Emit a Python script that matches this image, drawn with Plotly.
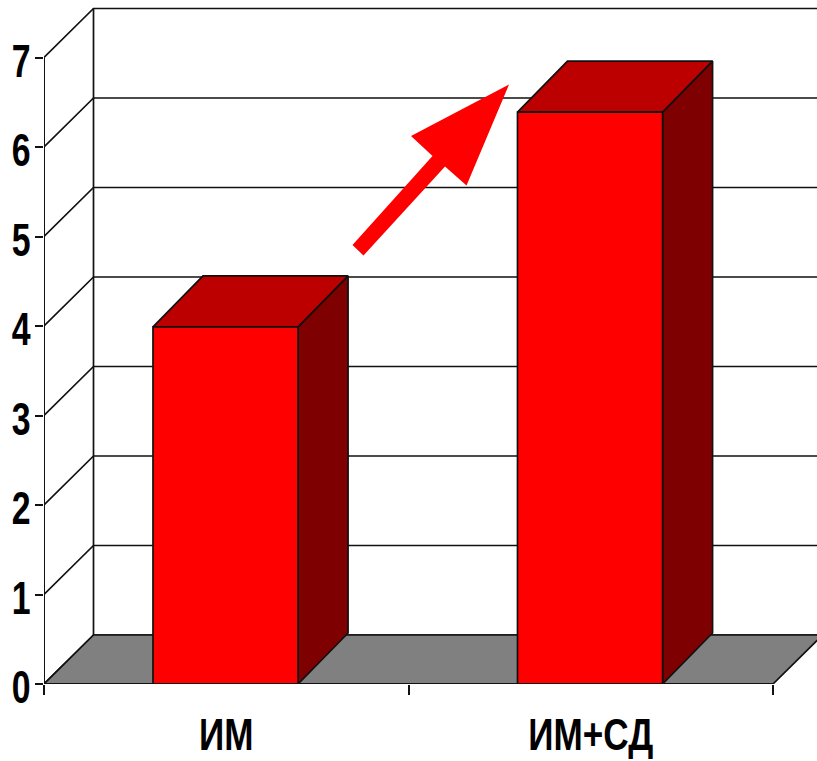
import plotly.graph_objects as go

# Chart values
categories = ["ИМ", "ИМ+СД"]
values = [3.99, 6.39]
y_ticks = [0, 1, 2, 3, 4, 5, 6, 7]

# Page geometry (pixels)
W, H = 817, 761
ML, MB = 44, 77
PX_X = 364.5                  # pixels per category
PX_Y = 89.5                   # pixels per value unit

# Oblique depth of the pseudo-3D box and of the bars
wall_dx, wall_dy = 49.5 / PX_X, 49 / PX_Y
bar_dx, bar_dy = 50 / PX_X, 51 / PX_Y
bar_w = 0.398
x_left, x_right = -0.5, 1.5
x_edge = x_left + (W - ML) / PX_X
y_top = (H - MB) / PX_Y

INK = "#111111"
fig = go.Figure()


def poly(xs, ys, fill=None, width=1.7, color=INK):
    fig.add_trace(go.Scatter(
        x=xs, y=ys, mode="lines", hoverinfo="skip",
        showlegend=False, line=dict(color=color, width=width),
        fill="toself" if fill else "none", fillcolor=fill,
    ))


# Back wall gridlines with their side-wall returns
for v in y_ticks:
    poly([x_left, x_left + wall_dx, x_edge + 0.05], [v, v + wall_dy, v + wall_dy])
poly([x_left + wall_dx] * 2, [wall_dy, 7 + wall_dy])

# Floor of the box
poly([x_left, x_left + wall_dx, x_right + wall_dx, x_right, x_left],
     [0, wall_dy, wall_dy, 0, 0], fill="#808080")

# Bars: side, top, front
for i, v in enumerate(values):
    l, r = i - bar_w / 2 - 0.002, i + bar_w / 2 - 0.002
    poly([r, r + bar_dx, r + bar_dx, r, r], [0, bar_dy, v + bar_dy, v, 0], fill="#7F0000")
    poly([l, l + bar_dx, r + bar_dx, r, l], [v, v + bar_dy, v + bar_dy, v, v], fill="#BC0000")
    poly([l, r, r, l, l], [0, 0, v, v, 0], fill="#FF0000")

# Axis lines stop at the last tick, short of the plot area's edges
poly([x_left, x_right], [0, 0], width=2)
poly([x_left, x_left], [0, 7], width=2)

# Rising trend arrow, positioned on the page
arrow_px = [(509, 84.5), (411, 136), (432.5, 156), (352.5, 245), (363.5, 255.5),
            (445, 166.5), (466.5, 185.5)]
arrow_path = "M" + " L".join(
    f"{(x - ML) / (W - ML):.4f},{1 - y / (H - MB):.4f}" for x, y in arrow_px
) + " Z"

FONT = "Liberation Sans, Arial, sans-serif"
fig.update_layout(
    width=W, height=H, autosize=False,
    margin=dict(l=ML, r=0, t=0, b=MB, pad=0, autoexpand=False),
    paper_bgcolor="white", plot_bgcolor="white", showlegend=False,
    shapes=[dict(type="path", xref="paper", yref="paper", path=arrow_path,
                 fillcolor="#FF0000", line=dict(width=0), layer="above")],
    xaxis=dict(
        range=[x_left, x_edge], tickmode="array", tickvals=[0, 1], ticktext=categories,
        ticks="", showgrid=False, zeroline=False, showline=False,
        tickfont=dict(family=FONT, size=45, color="#000000", weight="bold"),
        ticklabelstandoff=20,
        minor=dict(tickmode="array", tickvals=[-0.5, 0.5, 1.5], ticks="outside",
                   ticklen=10, tickwidth=1.5, tickcolor=INK, showgrid=False),
    ),
    yaxis=dict(
        range=[0, y_top], tickmode="array", tickvals=y_ticks,
        ticks="outside", ticklen=8, tickwidth=1.5, tickcolor=INK,
        showgrid=False, zeroline=False, showline=False,
        tickfont=dict(family=FONT, size=47, color="#000000", weight="bold"),
        ticklabelstandoff=-5, ticklabelshift=3,
    ),
)

# The labels are set in a condensed bold cut: narrow them about their anchor edge
condense = """
var squeeze = function (sel, sx, edge) {
  document.querySelectorAll(sel).forEach(function (t) {
    var b = t.getBBox();
    var cx = b.x + b.width * edge;
    var old = t.getAttribute('transform') || '';
    t.setAttribute('transform', old + ' translate(' + cx + ' 0) scale(' + sx + ' 1) translate(' + (-cx) + ' 0)');
  });
};
squeeze('.xtick text', 0.78, 0.5);
squeeze('.ytick text', 0.72, 1);
"""

fig.write_html("out.html", config={"displayModeBar": False}, post_script=condense)
